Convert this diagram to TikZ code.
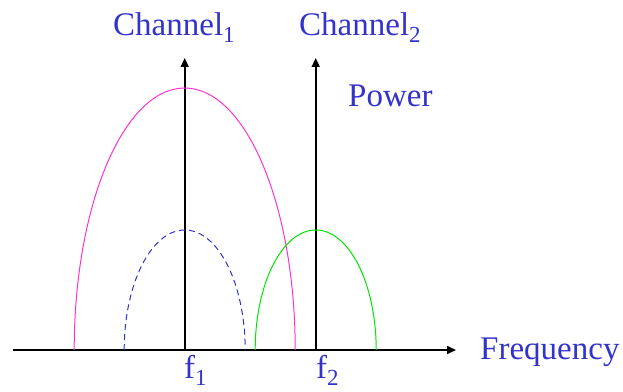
\documentclass[tikz,border=0pt]{standalone}
\usepackage{fontspec}
\setmainfont{Liberation Serif}
\usetikzlibrary{arrows.meta}
\definecolor{labelblue}{RGB}{51,51,204}
\definecolor{widecurve}{RGB}{255,51,204}
\definecolor{narrowcurve}{RGB}{0,230,0}
\newcommand{\lowsub}[1]{\raisebox{-7pt}{\fontsize{23}{23}\selectfont #1}}

\begin{document}
\begin{tikzpicture}[x=1pt,y=1pt]
\useasboundingbox (0,0) rectangle (623,391);

% Axes: one frequency axis, one power axis per channel
\tikzstyle{axis}=[line width=1.6pt,-{Triangle[length=9pt,width=8pt]}];
\coordinate (fstart) at (13,41);
\coordinate (fend) at (456,41);
\draw[axis] (fstart) -- (fend);
\foreach \x [count=\idx] in {184.7,315.7} {
  \coordinate (c\idx) at (\x,41);
  \coordinate (t\idx) at (\x,333);
  \draw[axis] (c\idx) -- (t\idx);
}

% Spectra of the two channels
\draw[widecurve,line width=1pt] (c1) ++(-110.5,0) arc[start angle=180,end angle=0,x radius=110.5,y radius=262];
\draw[labelblue,line width=1pt,dash pattern=on 6pt off 4pt] (c1) ++(-60.5,0) arc[start angle=180,end angle=0,x radius=60.5,y radius=120];
\draw[narrowcurve,line width=1pt] (c2) ++(-60.5,0) arc[start angle=180,end angle=0,x radius=60.5,y radius=120];

% Labels
\tikzstyle{every node}=[text=labelblue,inner sep=0pt,anchor=base west,font=\fontsize{33}{39}\selectfont];
\node (ch1) at (113,355) {Channel\lowsub{1}};
\node (ch2) at (299,355) {Channel\lowsub{2}};
\node (power) at (348,284) {Power};
\node (freq) at (480,32) {Frequency};
\node (f1) at (184,13) {f\lowsub{1}};
\node (f2) at (316,13) {f\lowsub{2}};

\end{tikzpicture}
\end{document}
